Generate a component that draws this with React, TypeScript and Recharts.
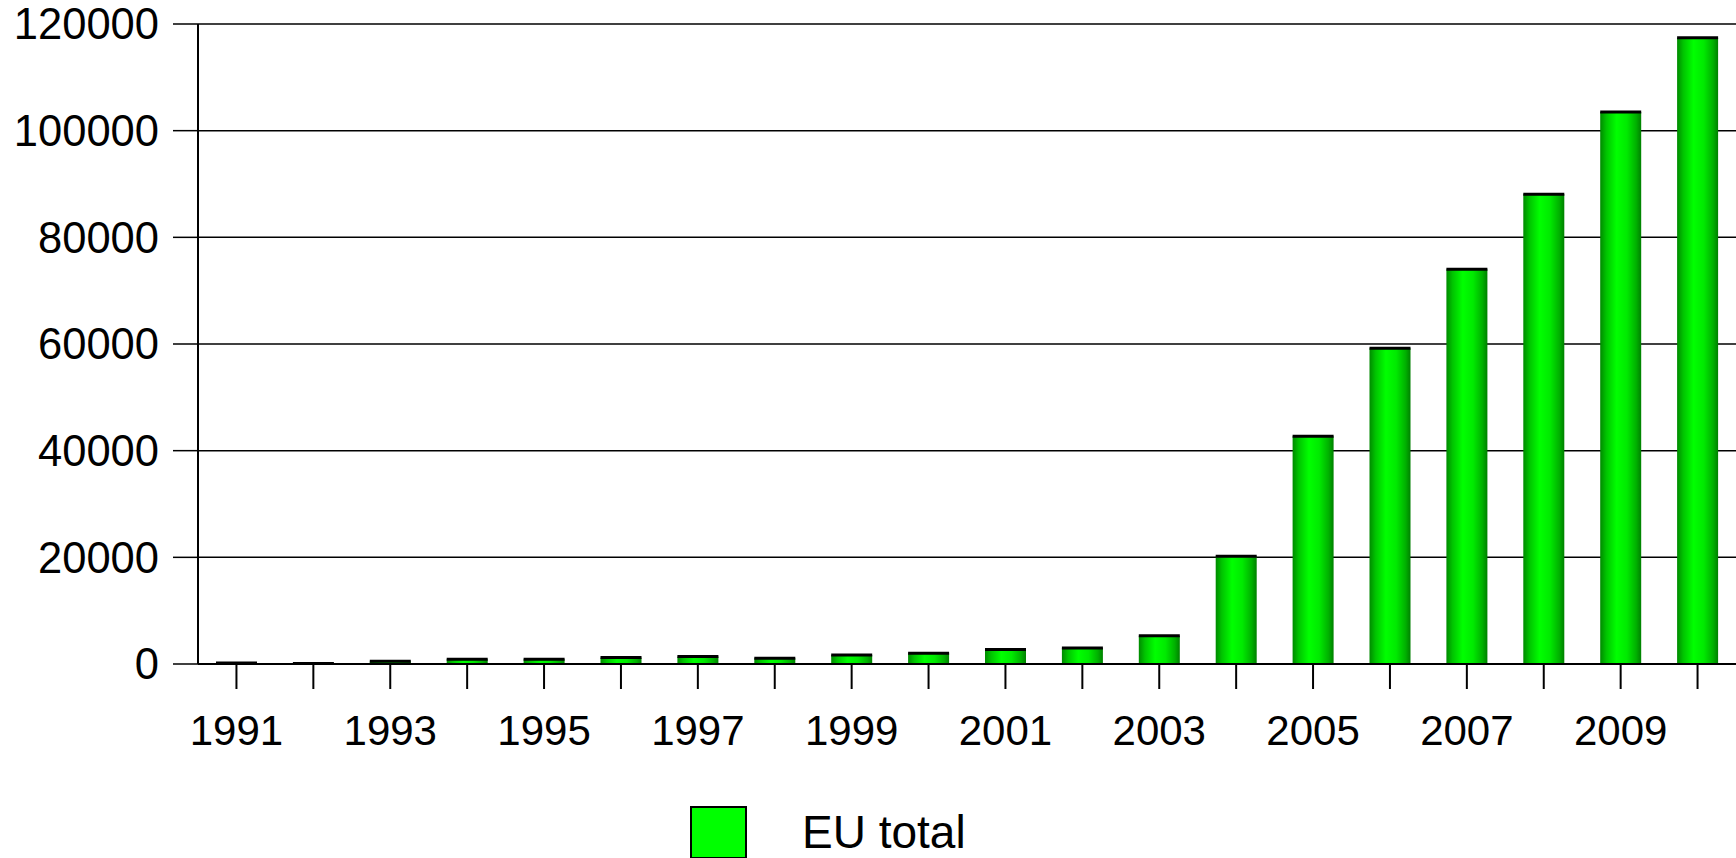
import { Bar, BarChart, CartesianGrid, Legend, XAxis, YAxis } from 'recharts'

const years = [
  '1991', '1992', '1993', '1994', '1995', '1996', '1997', '1998', '1999', '2000',
  '2001', '2002', '2003', '2004', '2005', '2006', '2007', '2008', '2009', '2010',
]
const euTotal = [
  200, 100, 500, 900, 900, 1200, 1400, 1100, 1700, 2000,
  2700, 3000, 5300, 20200, 42700, 59200, 74000, 88100, 103500, 117400,
]
const yTicks = [0, 20000, 40000, 60000, 80000, 100000, 120000]

const data = years.map((y, i) => ({ year: y, total: euTotal[i] }))

const FONT = '"Liberation Sans", Arial, sans-serif'

// bar with a black cap line on top
function CappedBar(props: any) {
  const { x, y, width, height } = props
  if (width == null || height == null) return null
  return (
    <g>
      <rect x={x} y={y} width={width} height={height} fill="url(#barGrad)" />
      <line x1={x} x2={x + width} y1={y} y2={y} stroke="#000" strokeWidth={3} />
    </g>
  )
}

function YearTick(props: any) {
  const { x, y, payload, index } = props
  if (index % 2 === 1) return null
  return (
    <text x={x} y={y} dy={42} textAnchor="middle" fontSize={42} fill="#000" fontFamily={FONT}>
      {payload.value}
    </text>
  )
}

function LegendBox() {
  return (
    <div style={{ display: 'flex', alignItems: 'center', fontFamily: FONT, fontSize: 46 }}>
      <span
        style={{
          display: 'inline-block',
          width: 57,
          height: 53,
          background: '#00ff00',
          border: '2px solid #000',
          boxSizing: 'border-box',
          marginRight: 55,
        }}
      />
      <span>EU total</span>
    </div>
  )
}

export default function App() {
  return (
    <div style={{ position: 'absolute', left: 0, top: 0, background: '#fff' }}>
      <BarChart
        width={1736}
        height={858}
        data={data}
        margin={{ top: 24, right: 0, bottom: 0, left: 0 }}
        barSize={41}
      >
        <defs>
          <linearGradient id="barGrad" x1="0" y1="0" x2="1" y2="0">
            <stop offset="0%" stopColor="#008a00" />
            <stop offset="15%" stopColor="#00c400" />
            <stop offset="40%" stopColor="#00ff00" />
            <stop offset="65%" stopColor="#00ea00" />
            <stop offset="88%" stopColor="#00b000" />
            <stop offset="100%" stopColor="#008000" />
          </linearGradient>
        </defs>
        <CartesianGrid vertical={false} stroke="#000" strokeWidth={1.5} />
        <XAxis
          dataKey="year"
          interval={0}
          height={136}
          tickSize={25}
          tickMargin={14}
          axisLine={{ stroke: '#000', strokeWidth: 2 }}
          tickLine={{ stroke: '#000', strokeWidth: 2 }}
          tick={<YearTick />}
        />
        <YAxis
          width={198}
          domain={[0, 120000]}
          ticks={yTicks}
          interval={0}
          tickSize={25}
          tickMargin={14}
          axisLine={{ stroke: '#000', strokeWidth: 2 }}
          tickLine={{ stroke: '#000', strokeWidth: 1.5 }}
          tick={{ fill: '#000', fontSize: 43.5, fontFamily: FONT }}
        />
        <Legend
          verticalAlign="bottom"
          content={() => <LegendBox />}
          wrapperStyle={{ height: 58, left: 690, width: 420, top: 805 }}
        />
        <Bar dataKey="total" name="EU total" shape={<CappedBar />} isAnimationActive={false} />
      </BarChart>
    </div>
  )
}
